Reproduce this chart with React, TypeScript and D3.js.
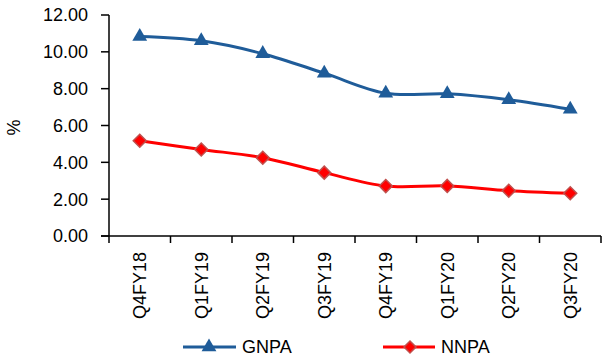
import React from "react";
import * as d3 from "d3";

const categories = ["Q4FY18", "Q1FY19", "Q2FY19", "Q3FY19", "Q4FY19", "Q1FY20", "Q2FY20", "Q3FY20"];
const gnpa = [10.83, 10.6, 9.9, 8.84, 7.75, 7.72, 7.4, 6.88];
const nnpa = [5.17, 4.7, 4.25, 3.44, 2.71, 2.72, 2.46, 2.32];
const yTicks = [0, 2, 4, 6, 8, 10, 12];

const W = 605, H = 363;
const left = 109, right = 601, top = 15, bottom = 236;
const FONT = "'Liberation Sans', Arial, sans-serif";
const FS = 18;
const BLUE = "#1F5C99";
const RED = "#FF0000";

export default function App() {
  const x = d3.scaleBand<string>().domain(categories).range([left, right]);
  const y = d3.scaleLinear().domain([0, 12]).range([bottom, top]);
  const cx = (c: string) => (x(c) as number) + x.bandwidth() / 2;
  const line = d3
    .line<number>()
    .x((_, i) => cx(categories[i]))
    .y((d) => y(d))
    .curve(d3.curveCatmullRom.alpha(0.5));

  const tri = d3.symbol().type(d3.symbolTriangle).size(95)();
  const diamond = (s: number) => `M0,${-s}L${s},0L0,${s}L${-s},0Z`;

  const boundaries = categories.map((c) => x(c) as number).concat([right]);

  return (
    <svg width={W} height={H} style={{ position: "absolute", left: 0, top: 0 }}>
      <rect width={W} height={H} fill="#fff" />
      {/* y axis */}
      <line x1={left} x2={left} y1={top} y2={bottom} stroke="#000" strokeWidth={1.5} />
      {yTicks.map((t) => (
        <g key={t}>
          <line x1={left - 8} x2={left} y1={y(t)} y2={y(t)} stroke="#000" strokeWidth={1.5} />
          <text x={88} y={y(t)} dy="0.36em" textAnchor="end" fontFamily={FONT} fontSize={FS} fill="#000">
            {t.toFixed(2)}
          </text>
        </g>
      ))}
      <text
        transform={`translate(20,${(top + bottom) / 2 + 2}) rotate(-90)`}
        textAnchor="middle"
        fontFamily={FONT}
        fontSize={FS}
        fill="#000"
      >
        %
      </text>
      {/* x axis */}
      <line x1={left - 8} x2={right} y1={bottom} y2={bottom} stroke="#000" strokeWidth={1.5} />
      {boundaries.map((b, i) => (
        <line key={i} x1={b} x2={b} y1={bottom} y2={bottom + 7} stroke="#000" strokeWidth={1.5} />
      ))}
      {categories.map((c) => (
        <text
          key={c}
          transform={`translate(${cx(c)},252) rotate(-90)`}
          textAnchor="end"
          dy="0.35em"
          fontFamily={FONT}
          fontSize={FS}
          fill="#000"
        >
          {c}
        </text>
      ))}
      {/* series */}
      <path d={line(gnpa) || ""} fill="none" stroke={BLUE} strokeWidth={3} />
      <path d={line(nnpa) || ""} fill="none" stroke={RED} strokeWidth={3} />
      {gnpa.map((v, i) => (
        <path key={"g" + i} d={tri || ""} transform={`translate(${cx(categories[i])},${y(v)})`} fill={BLUE} />
      ))}
      {nnpa.map((v, i) => (
        <path
          key={"n" + i}
          d={diamond(6.5)}
          transform={`translate(${cx(categories[i])},${y(v)})`}
          fill={RED}
          stroke="#C0504D"
          strokeWidth={1.5}
        />
      ))}
      {/* legend */}
      <g>
        <line x1={183} x2={236} y1={347} y2={347} stroke={BLUE} strokeWidth={3} />
        <path d={tri || ""} transform="translate(209,347)" fill={BLUE} />
        <text x={242} y={347} dy="0.36em" fontFamily={FONT} fontSize={FS} fill="#000">
          GNPA
        </text>
        <line x1={383} x2={435} y1={347} y2={347} stroke={RED} strokeWidth={3} />
        <path d={diamond(6)} transform="translate(410,347)" fill={RED} stroke="#C0504D" strokeWidth={1.5} />
        <text x={441} y={347} dy="0.36em" fontFamily={FONT} fontSize={FS} fill="#000">
          NNPA
        </text>
      </g>
    </svg>
  );
}
